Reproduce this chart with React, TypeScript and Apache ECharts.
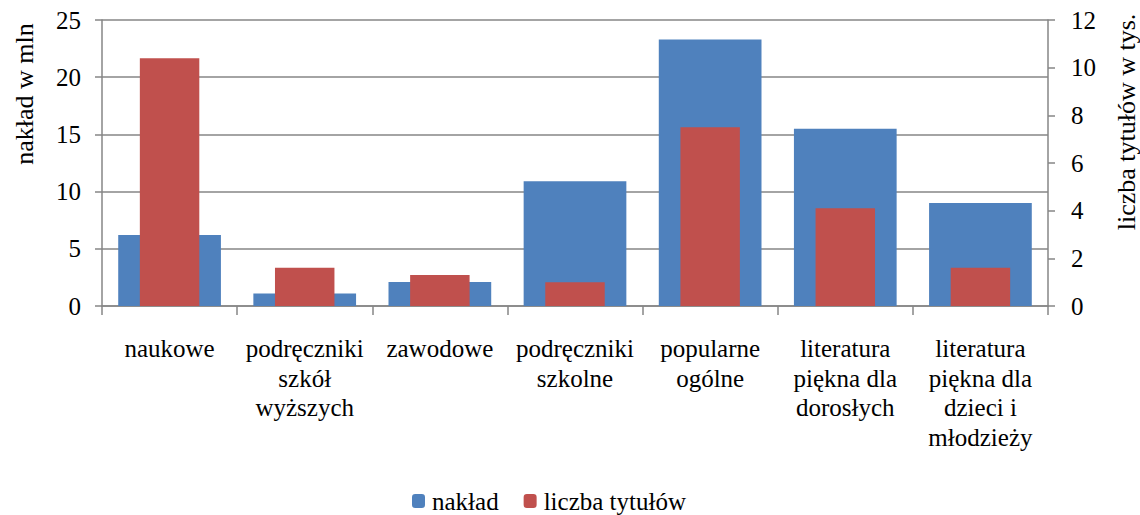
import React, { useEffect, useRef } from "react";
import * as echarts from "echarts";

const categories = [
  "naukowe",
  "podręczniki\nszkół\nwyższych",
  "zawodowe",
  "podręczniki\nszkolne",
  "popularne\nogólne",
  "literatura\npiękna dla\ndorosłych",
  "literatura\npiękna dla\ndzieci i\nmłodzieży",
];
const nakladValues = [6.2, 1.1, 2.1, 10.9, 23.3, 15.5, 9.0];
const tytulyValues = [10.4, 1.6, 1.3, 1.0, 7.5, 4.1, 1.6];
const leftTicks = { min: 0, max: 25, interval: 5 };
const rightTicks = { min: 0, max: 12, interval: 2 };
const seriesNames = ["nakład", "liczba tytułów"];
const axisNames = ["nakład w mln", "liczba tytułów w tys."];

const FONT = "Liberation Serif";
const GRAY = "#868686";

export default function App() {
  const ref = useRef<HTMLDivElement>(null);
  useEffect(() => {
    if (!ref.current) return;
    const chart = echarts.init(ref.current, undefined, { renderer: "svg" });
    chart.setOption({
      animation: false,
      backgroundColor: "#ffffff",
      textStyle: { fontFamily: FONT, color: "#000" },
      grid: { left: 102, right: 92, top: 20, bottom: 209, containLabel: false },
      legend: {
        top: 488,
        left: 412,
        padding: 0,
        itemWidth: 13,
        itemHeight: 14,
        itemGap: 25,
        textStyle: {
          fontFamily: FONT,
          fontSize: 25,
          lineHeight: 26,
          color: "#000",
          padding: [0, 0, 0, 2],
        },
        data: seriesNames,
      },
      xAxis: [
        {
          type: "category",
          data: categories,
          axisLine: { lineStyle: { color: GRAY, width: 1.5 } },
          axisTick: { show: true, length: 9, lineStyle: { color: GRAY, width: 1.5 } },
          axisLabel: {
            interval: 0,
            margin: 28,
            fontFamily: FONT,
            fontSize: 25,
            lineHeight: 29.5,
            color: "#000",
          },
        },
        {
          type: "category",
          data: categories,
          show: false,
        },
      ],
      yAxis: [
        {
          type: "value",
          min: leftTicks.min,
          max: leftTicks.max,
          interval: leftTicks.interval,
          axisLine: { show: true, lineStyle: { color: GRAY, width: 1.5 } },
          axisTick: { show: true, length: 7, lineStyle: { color: GRAY, width: 1.5 } },
          axisLabel: { margin: 21, fontFamily: FONT, fontSize: 25, color: "#000" },
          splitLine: { show: true, lineStyle: { color: GRAY, width: 1.5 } },
        },
        {
          type: "value",
          position: "right",
          min: rightTicks.min,
          max: rightTicks.max,
          interval: rightTicks.interval,
          axisLine: { show: true, lineStyle: { color: GRAY, width: 1.5 } },
          axisTick: { show: true, length: 7, lineStyle: { color: GRAY, width: 1.5 } },
          axisLabel: { margin: 23, fontFamily: FONT, fontSize: 25, color: "#000" },
          splitLine: { show: false },
        },
      ],
      series: [
        {
          name: seriesNames[0],
          type: "bar",
          xAxisIndex: 0,
          yAxisIndex: 0,
          data: nakladValues,
          barWidth: "76%",
          itemStyle: { color: "#4F81BD" },
        },
        {
          name: seriesNames[1],
          type: "bar",
          xAxisIndex: 1,
          yAxisIndex: 1,
          data: tytulyValues,
          barWidth: "44%",
          itemStyle: { color: "#C0504D" },
        },
      ],
      graphic: [
        {
          type: "text",
          x: 24,
          y: 94,
          rotation: Math.PI / 2,
          style: {
            text: axisNames[0],
            fontFamily: FONT,
            fontSize: 26,
            fill: "#000",
            align: "center",
            verticalAlign: "middle",
          },
        },
        {
          type: "text",
          x: 1126,
          y: 122,
          rotation: Math.PI / 2,
          style: {
            text: axisNames[1],
            fontFamily: FONT,
            fontSize: 26,
            fill: "#000",
            align: "center",
            verticalAlign: "middle",
          },
        },
      ],
    });
    return () => chart.dispose();
  }, []);
  return (
    <div
      ref={ref}
      style={{ position: "fixed", left: 0, top: 0, width: 1140, height: 515, background: "#fff" }}
    />
  );
}
